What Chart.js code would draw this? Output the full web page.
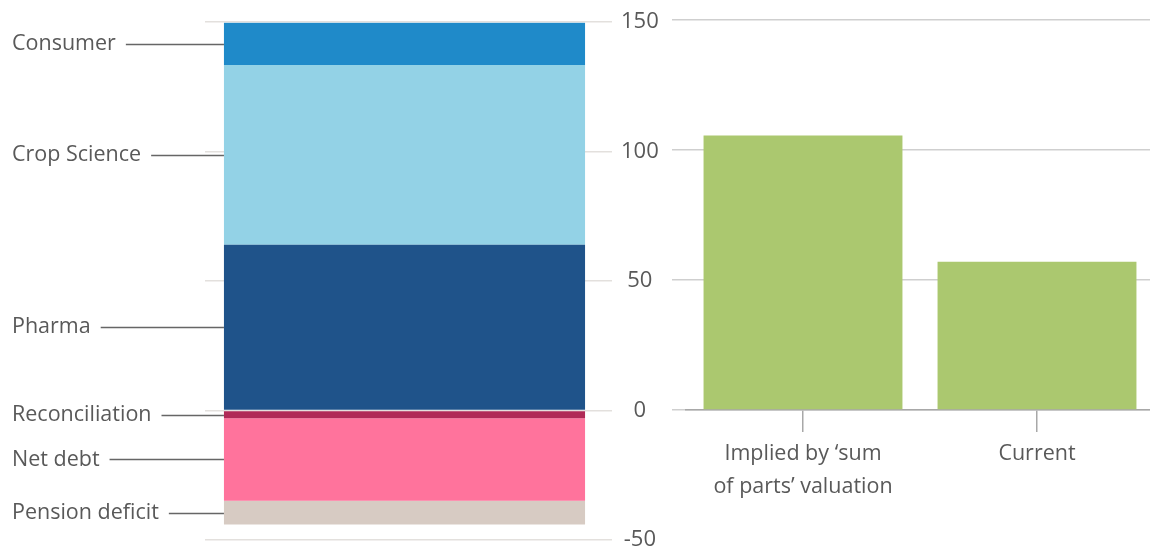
<!DOCTYPE html>
<html>
<head>
<meta charset="utf-8">
<script src="https://cdn.jsdelivr.net/npm/chart.js@4.4.1/dist/chart.umd.min.js"></script>
<style>
  html, body { margin: 0; padding: 0; background: #fff; overflow: hidden; width: 1150px; height: 549px; }
  #wrapL { position: absolute; left: 0; top: 0; width: 672px; height: 570px; }
  #wrapR { position: absolute; left: 672px; top: 0; width: 482px; height: 570px; }
</style>
</head>
<body>
<div id="wrapL"><canvas id="left"></canvas></div>
<div id="wrapR"><canvas id="right"></canvas></div>
<script>
// ---- data ----
const segmentLabels = ["Pharma", "Crop Science", "Consumer", "Reconciliation", "Net debt", "Pension deficit"];
const segmentValues = [64, 69.5, 16.3, -3, -31.8, -9.2];
const segmentColors = ["#1f538a", "#93d2e6", "#1f8ac9", "#b02a57", "#ff739c", "#d7cbc3"];
const valuationCategories = [["Implied by \u2018sum", "of parts\u2019 valuation"], "Current"];
const valuationValues = [105.6, 57];
const yTickValues = [-50, 0, 50, 100, 150];

const FONT = "'Open Sans', 'DejaVu Sans', sans-serif";
const TEXT = "#595959";

// leader-label plugin for the stacked bar
const leaderLabels = {
  id: 'leaderLabels',
  afterDatasetsDraw(chart) {
    const ctx = chart.ctx;
    ctx.save();
    ctx.font = "21.5px " + FONT;
    ctx.fillStyle = TEXT;
    ctx.textBaseline = 'middle';
    ctx.textAlign = 'left';
    chart.data.datasets.forEach((ds, i) => {
      const el = chart.getDatasetMeta(i).data[0];
      if (!el) return;
      const yMid = (el.y + el.base) / 2;
      const x0 = 12;
      ctx.fillText(ds.label, x0, yMid);
      const tw = ctx.measureText(ds.label).width;
      const barLeft = el.x - el.width / 2;
      ctx.beginPath();
      ctx.strokeStyle = "#666";
      ctx.lineWidth = 1.5;
      ctx.moveTo(x0 + tw + 10, Math.round(yMid) + 0.5);
      ctx.lineTo(barLeft, Math.round(yMid) + 0.5);
      ctx.stroke();
    });
    ctx.restore();
  }
};

new Chart(document.getElementById('left'), {
  type: 'bar',
  data: {
    labels: ["Sum of parts"],
    datasets: segmentLabels.map((l, i) => ({
      label: l,
      data: [segmentValues[i]],
      backgroundColor: segmentColors[i],
      borderWidth: 0,
      stack: 's'
    }))
  },
  options: {
    responsive: true,
    maintainAspectRatio: false,
    animation: false,
    layout: { padding: { left: 205, top: 20, bottom: 30, right: 0 } },
    plugins: { legend: { display: false }, tooltip: { enabled: false } },
    datasets: { bar: { barPercentage: 0.905, categoryPercentage: 1 } },
    scales: {
      x: { display: false, stacked: true },
      y: {
        stacked: true,
        position: 'right',
        min: -50, max: 150,
        afterBuildTicks: (s) => { s.ticks = yTickValues.map(v => ({ value: v })); },
        afterFit: (s) => { s.width = 68; },
        border: { display: false },
        grid: { color: "#e3e0dd", lineWidth: 1.5, drawTicks: true, tickLength: 8 },
        ticks: { color: TEXT, font: { family: FONT, size: 22 }, padding: 9, crossAlign: 'center' }
      }
    }
  },
  plugins: [leaderLabels]
});

new Chart(document.getElementById('right'), {
  type: 'bar',
  data: {
    labels: valuationCategories,
    datasets: [{ data: valuationValues, backgroundColor: "#abc86f", borderWidth: 0 }]
  },
  options: {
    responsive: true,
    maintainAspectRatio: false,
    animation: false,
    layout: { padding: { left: 0, top: 20, bottom: 0, right: 0 } },
    plugins: { legend: { display: false }, tooltip: { enabled: false } },
    datasets: { bar: { barPercentage: 0.85, categoryPercentage: 1 } },
    scales: {
      x: {
        afterFit: (s) => { s.height = 160; },
        border: { display: true, color: "#a8a8a8", width: 1.5 },
        grid: { offset: false, drawOnChartArea: false, color: "#a8a8a8", lineWidth: 1.5, tickLength: 22 },
        ticks: { color: TEXT, font: { family: FONT, size: 21.5, lineHeight: 1.5 }, padding: 6, maxRotation: 0, autoSkip: false }
      },
      y: {
        min: 0, max: 150,
        afterBuildTicks: (s) => { s.ticks = yTickValues.filter(v => v >= 0).map(v => ({ value: v })); },
        afterFit: (s) => { s.width = 14; },
        border: { display: false },
        grid: { color: "#cfcfcf", lineWidth: 1.5, drawTicks: true, tickLength: 14 },
        ticks: { display: false }
      }
    }
  }
});
</script>
</body>
</html>
